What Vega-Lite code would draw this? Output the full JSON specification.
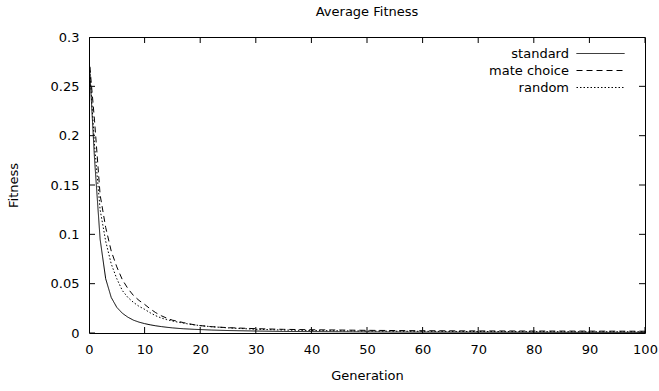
{
  "$schema": "https://vega.github.io/schema/vega-lite/v6.json",
  "width": 556,
  "height": 296,
  "autosize": {"type": "none"},
  "padding": {"left": 89, "top": 37, "right": 14, "bottom": 58},
  "background": "white",
  "title": {"text": "Average Fitness", "fontSize": 13, "fontWeight": "normal", "font": "DejaVu Sans", "color": "black", "offset": 12, "anchor": "middle"},
  "config": {
    "view": {"stroke": "black", "strokeWidth": 1},
    "font": "DejaVu Sans",
    "axis": {"grid": false, "domain": false, "ticks": false, "labelFont": "DejaVu Sans", "labelFontSize": 13, "labelColor": "black", "titleFont": "DejaVu Sans", "titleFontSize": 13, "titleFontWeight": "normal", "titleColor": "black"}
  },
  "datasets": {
    "curves": [
      {"gen": 0, "fitness": 0.28, "series": "standard"},
      {"gen": 1, "fitness": 0.176, "series": "standard"},
      {"gen": 2, "fitness": 0.095, "series": "standard"},
      {"gen": 3, "fitness": 0.055, "series": "standard"},
      {"gen": 4, "fitness": 0.036, "series": "standard"},
      {"gen": 5, "fitness": 0.026, "series": "standard"},
      {"gen": 6, "fitness": 0.02, "series": "standard"},
      {"gen": 7, "fitness": 0.016, "series": "standard"},
      {"gen": 8, "fitness": 0.013, "series": "standard"},
      {"gen": 9, "fitness": 0.011, "series": "standard"},
      {"gen": 10, "fitness": 0.0095, "series": "standard"},
      {"gen": 11, "fitness": 0.0083, "series": "standard"},
      {"gen": 12, "fitness": 0.0073, "series": "standard"},
      {"gen": 13, "fitness": 0.0065, "series": "standard"},
      {"gen": 14, "fitness": 0.0058, "series": "standard"},
      {"gen": 15, "fitness": 0.0052, "series": "standard"},
      {"gen": 16, "fitness": 0.0047, "series": "standard"},
      {"gen": 17, "fitness": 0.0043, "series": "standard"},
      {"gen": 18, "fitness": 0.004, "series": "standard"},
      {"gen": 19, "fitness": 0.0037, "series": "standard"},
      {"gen": 20, "fitness": 0.0035, "series": "standard"},
      {"gen": 22, "fitness": 0.003, "series": "standard"},
      {"gen": 25, "fitness": 0.0025, "series": "standard"},
      {"gen": 30, "fitness": 0.002, "series": "standard"},
      {"gen": 35, "fitness": 0.0016, "series": "standard"},
      {"gen": 40, "fitness": 0.0014, "series": "standard"},
      {"gen": 50, "fitness": 0.0011, "series": "standard"},
      {"gen": 60, "fitness": 0.0009, "series": "standard"},
      {"gen": 70, "fitness": 0.0008, "series": "standard"},
      {"gen": 80, "fitness": 0.0007, "series": "standard"},
      {"gen": 90, "fitness": 0.0006, "series": "standard"},
      {"gen": 100, "fitness": 0.0006, "series": "standard"},
      {"gen": 0, "fitness": 0.28, "series": "mate choice"},
      {"gen": 1, "fitness": 0.215, "series": "mate choice"},
      {"gen": 2, "fitness": 0.14, "series": "mate choice"},
      {"gen": 3, "fitness": 0.107, "series": "mate choice"},
      {"gen": 4, "fitness": 0.083, "series": "mate choice"},
      {"gen": 5, "fitness": 0.067, "series": "mate choice"},
      {"gen": 6, "fitness": 0.054, "series": "mate choice"},
      {"gen": 7, "fitness": 0.045, "series": "mate choice"},
      {"gen": 8, "fitness": 0.038, "series": "mate choice"},
      {"gen": 9, "fitness": 0.033, "series": "mate choice"},
      {"gen": 10, "fitness": 0.029, "series": "mate choice"},
      {"gen": 11, "fitness": 0.0245, "series": "mate choice"},
      {"gen": 12, "fitness": 0.0206, "series": "mate choice"},
      {"gen": 13, "fitness": 0.0175, "series": "mate choice"},
      {"gen": 14, "fitness": 0.015, "series": "mate choice"},
      {"gen": 15, "fitness": 0.013, "series": "mate choice"},
      {"gen": 16, "fitness": 0.0118, "series": "mate choice"},
      {"gen": 17, "fitness": 0.0105, "series": "mate choice"},
      {"gen": 18, "fitness": 0.0093, "series": "mate choice"},
      {"gen": 19, "fitness": 0.0083, "series": "mate choice"},
      {"gen": 20, "fitness": 0.0075, "series": "mate choice"},
      {"gen": 22, "fitness": 0.0064, "series": "mate choice"},
      {"gen": 25, "fitness": 0.0054, "series": "mate choice"},
      {"gen": 30, "fitness": 0.0044, "series": "mate choice"},
      {"gen": 35, "fitness": 0.0037, "series": "mate choice"},
      {"gen": 40, "fitness": 0.0033, "series": "mate choice"},
      {"gen": 50, "fitness": 0.0027, "series": "mate choice"},
      {"gen": 60, "fitness": 0.0023, "series": "mate choice"},
      {"gen": 70, "fitness": 0.0021, "series": "mate choice"},
      {"gen": 80, "fitness": 0.002, "series": "mate choice"},
      {"gen": 90, "fitness": 0.0019, "series": "mate choice"},
      {"gen": 100, "fitness": 0.0018, "series": "mate choice"},
      {"gen": 0, "fitness": 0.28, "series": "random"},
      {"gen": 1, "fitness": 0.19, "series": "random"},
      {"gen": 2, "fitness": 0.125, "series": "random"},
      {"gen": 3, "fitness": 0.093, "series": "random"},
      {"gen": 4, "fitness": 0.07, "series": "random"},
      {"gen": 5, "fitness": 0.055, "series": "random"},
      {"gen": 6, "fitness": 0.043, "series": "random"},
      {"gen": 7, "fitness": 0.036, "series": "random"},
      {"gen": 8, "fitness": 0.031, "series": "random"},
      {"gen": 9, "fitness": 0.027, "series": "random"},
      {"gen": 10, "fitness": 0.024, "series": "random"},
      {"gen": 11, "fitness": 0.0205, "series": "random"},
      {"gen": 12, "fitness": 0.0175, "series": "random"},
      {"gen": 13, "fitness": 0.0152, "series": "random"},
      {"gen": 14, "fitness": 0.0135, "series": "random"},
      {"gen": 15, "fitness": 0.0122, "series": "random"},
      {"gen": 16, "fitness": 0.011, "series": "random"},
      {"gen": 17, "fitness": 0.01, "series": "random"},
      {"gen": 18, "fitness": 0.009, "series": "random"},
      {"gen": 19, "fitness": 0.0082, "series": "random"},
      {"gen": 20, "fitness": 0.0075, "series": "random"},
      {"gen": 22, "fitness": 0.0064, "series": "random"},
      {"gen": 25, "fitness": 0.0052, "series": "random"},
      {"gen": 30, "fitness": 0.0038, "series": "random"},
      {"gen": 35, "fitness": 0.003, "series": "random"},
      {"gen": 40, "fitness": 0.0025, "series": "random"},
      {"gen": 50, "fitness": 0.002, "series": "random"},
      {"gen": 60, "fitness": 0.0017, "series": "random"},
      {"gen": 70, "fitness": 0.0015, "series": "random"},
      {"gen": 80, "fitness": 0.0014, "series": "random"},
      {"gen": 90, "fitness": 0.0013, "series": "random"},
      {"gen": 100, "fitness": 0.0013, "series": "random"}
    ],
    "xticks": [{"gen": 0}, {"gen": 10}, {"gen": 20}, {"gen": 30}, {"gen": 40}, {"gen": 50}, {"gen": 60}, {"gen": 70}, {"gen": 80}, {"gen": 90}, {"gen": 100}],
    "yticks": [{"fitness": 0}, {"fitness": 0.05}, {"fitness": 0.1}, {"fitness": 0.15}, {"fitness": 0.2}, {"fitness": 0.25}, {"fitness": 0.3}]
  },
  "layer": [
    {
      "data": {"name": "curves"},
      "mark": {"type": "line", "color": "black", "strokeWidth": 1, "clip": true},
      "encoding": {
        "x": {"field": "gen", "type": "quantitative", "scale": {"domain": [0, 100], "nice": false, "zero": false},
              "axis": {"orient": "bottom", "values": [0,10,20,30,40,50,60,70,80,90,100], "labelPadding": 10, "title": "Generation", "titlePadding": 13, "labelFlush": false}},
        "y": {"field": "fitness", "type": "quantitative", "scale": {"domain": [0, 0.3], "nice": false},
              "axis": {"orient": "left", "values": [0, 0.05, 0.1, 0.15, 0.2, 0.25, 0.3], "format": ".2~f", "labelPadding": 10, "title": "Fitness", "titlePadding": 30, "labelFlush": false}},
        "strokeDash": {"field": "series", "type": "nominal",
          "scale": {"domain": ["standard", "mate choice", "random"], "range": [[1, 0], [6, 4], [1.5, 2]]},
          "legend": {"title": null, "orient": "none", "legendX": 505, "legendY": 10, "padding": 0,
                     "symbolType": "M-4,0H4", "symbolSize": 144, "symbolStrokeColor": "black", "symbolFillColor": "transparent", "symbolStrokeWidth": 1,
                     "labelAlign": "right", "labelOffset": -38, "labelFont": "DejaVu Sans", "labelFontSize": 13, "labelColor": "black",
                     "rowPadding": 3, "labelLimit": 200}}
      }
    },
    {
      "data": {"name": "xticks"},
      "mark": {"type": "tick", "orient": "vertical", "size": 12, "thickness": 1, "color": "black", "opacity": 1, "clip": true},
      "encoding": {
        "x": {"field": "gen", "type": "quantitative"},
        "y": {"datum": 0}
      }
    },
    {
      "data": {"name": "xticks"},
      "mark": {"type": "tick", "orient": "vertical", "size": 12, "thickness": 1, "color": "black", "opacity": 1, "clip": true},
      "encoding": {
        "x": {"field": "gen", "type": "quantitative"},
        "y": {"datum": 0.3}
      }
    },
    {
      "data": {"name": "yticks"},
      "mark": {"type": "tick", "orient": "horizontal", "size": 12, "thickness": 1, "color": "black", "opacity": 1, "clip": true},
      "encoding": {
        "y": {"field": "fitness", "type": "quantitative"},
        "x": {"datum": 0}
      }
    },
    {
      "data": {"name": "yticks"},
      "mark": {"type": "tick", "orient": "horizontal", "size": 12, "thickness": 1, "color": "black", "opacity": 1, "clip": true},
      "encoding": {
        "y": {"field": "fitness", "type": "quantitative"},
        "x": {"datum": 100}
      }
    }
  ]
}
